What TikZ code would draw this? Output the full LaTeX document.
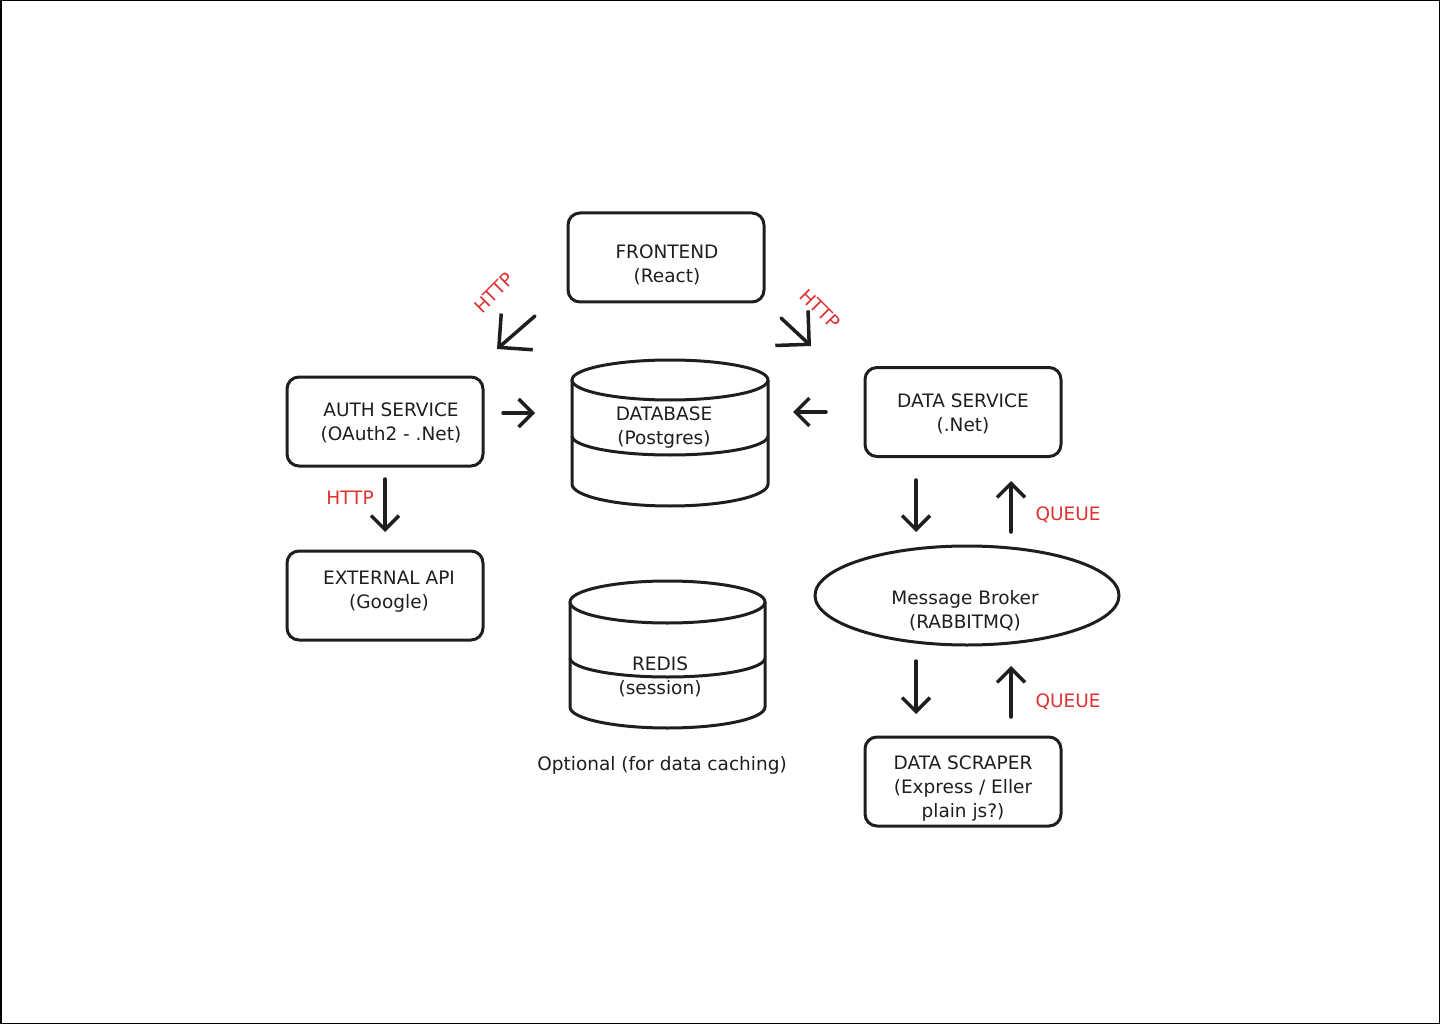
\documentclass[tikz,border=0pt]{standalone}
\usepackage{fontspec}
\setmainfont{DejaVu Sans}
\usetikzlibrary{arrows.meta,shapes.geometric}
\definecolor{ink}{HTML}{1E1E1E}
\definecolor{lab}{HTML}{E03131}
\begin{document}
\begin{tikzpicture}[x=1pt,y=-1pt,
 box/.style={draw=ink,line width=3pt,rounded corners=12pt,minimum width=196pt,minimum height=89pt,inner sep=0pt},
 txt/.style={font=\fontsize{18.5}{24}\selectfont,text=ink,align=center,inner sep=0pt},
 httplab/.style={font=\fontsize{18.5}{24}\selectfont,text=lab,inner sep=0pt},
 shape3/.style={draw=ink,line width=3pt},
 con/.style={draw=ink,line width=3.5pt,line cap=round,-{Straight Barb[length=14pt,width=28pt]}},
 bigcon/.style={draw=ink,line width=3.5pt,line cap=round,-{Straight Barb[length=24pt,width=48pt]}}
]
\useasboundingbox (0,0) rectangle (1440,1024);
\draw[black,line width=1.5pt] (0.75,0.75) rectangle (1439.25,1023.25);

% boxes
\node[box] (fe) at (666,257.5) {};
\node[txt] (fe-t) at (667,265) {FRONTEND\\(React)};
\node[box] (auth) at (385,421.5) {};
\node[txt] (auth-t) at (391,423) {AUTH SERVICE\\(OAuth2 - .Net)};
\node[box] (ext) at (385,595.5) {};
\node[txt] (ext-t) at (389,592) {EXTERNAL API\\(Google)};
\node[box] (ds) at (963,412) {};
\node[txt] (ds-t) at (963,414) {DATA SERVICE\\(.Net)};
\node[box] (scr) at (963,781.5) {};
\node[txt] (scr-t) at (963,789) {DATA SCRAPER\\(Express / Eller\\plain js?)};
\node[ellipse,draw=ink,line width=3pt,minimum width=304pt,minimum height=99pt,inner sep=0pt] (mb) at (967,595.5) {};
\node[txt] (mb-t) at (965,611) {Message Broker\\(RABBITMQ)};

% database cylinder
\draw[shape3] (670,380) ellipse [x radius=98pt,y radius=20pt];
\draw[shape3] (572,380) -- (572,484) arc[start angle=180,end angle=360,x radius=98pt,y radius=22pt] -- (768,380);
\draw[shape3] (572,436) arc[start angle=180,end angle=360,x radius=98pt,y radius=19pt];
\node[txt] (db-t) at (664,428) {DATABASE\\(Postgres)};

% redis cylinder
\draw[shape3] (667.5,602) ellipse [x radius=97.5pt,y radius=21pt];
\draw[shape3] (570,602) -- (570,707) arc[start angle=180,end angle=360,x radius=97.5pt,y radius=21pt] -- (765,602);
\draw[shape3] (570,658) arc[start angle=180,end angle=360,x radius=97.5pt,y radius=19pt];
\node[txt] (rd-t) at (660,677) {REDIS\\(session)};
\node[txt] (opt) at (662,765) {Optional (for data caching)};

% arrow end points
\coordinate (a1s) at (535,316); \coordinate (a1e) at (497,349);
\coordinate (a2s) at (781,318); \coordinate (a2e) at (811,346);
\coordinate (a3s) at (503,413); \coordinate (a3e) at (535,413);
\coordinate (a4s) at (826,412); \coordinate (a4e) at (793,412);
\coordinate (a5s) at (385,479); \coordinate (a5e) at (385,532);
\coordinate (a6s) at (916,480); \coordinate (a6e) at (916,532);
\coordinate (a7s) at (1011,532); \coordinate (a7e) at (1011,481);
\coordinate (a8s) at (916,661); \coordinate (a8e) at (916,714);
\coordinate (a9s) at (1011,717); \coordinate (a9e) at (1011,666);

\draw[bigcon] (a1s) -- (a1e);
\draw[bigcon] (a2s) -- (a2e);
\draw[con] (a3s) -- (a3e);
\draw[con] (a4s) -- (a4e);
\draw[con] (a5s) -- (a5e);
\draw[con] (a6s) -- (a6e);
\draw[con] (a7s) -- (a7e);
\draw[con] (a8s) -- (a8e);
\draw[con] (a9s) -- (a9e);

% labels
\node[httplab,rotate=45] (l1) at (494,293) {HTTP};
\node[httplab,rotate=-45] (l2) at (820,309) {HTTP};
\node[httplab] (l3) at (350,498) {HTTP};
\node[httplab] (l4) at (1068,515) {QUEUE};
\node[httplab] (l5) at (1068,702) {QUEUE};
\end{tikzpicture}
\end{document}
